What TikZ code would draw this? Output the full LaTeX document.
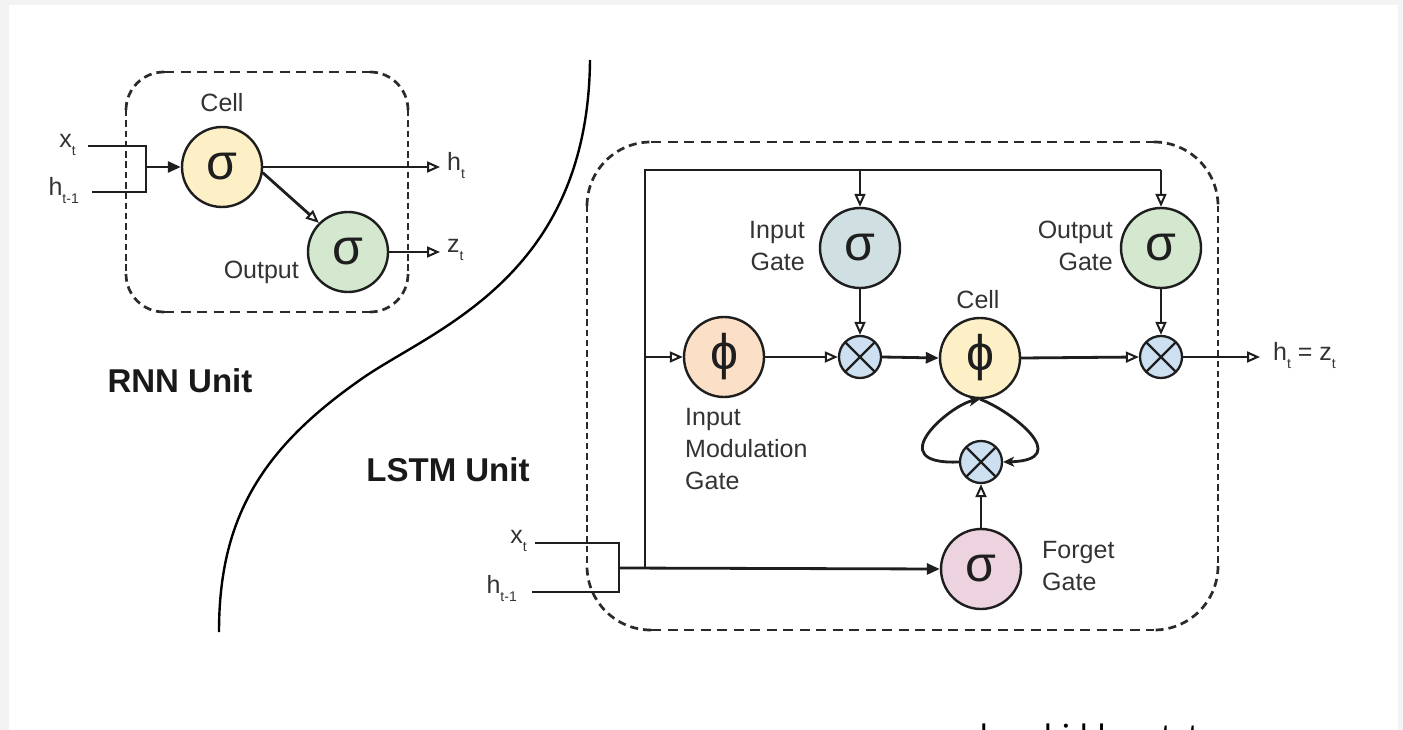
\documentclass[tikz,border=0pt]{standalone}
\usepackage{fontspec}
\setmainfont{Liberation Sans}
\newfontfamily\capfont{Carlito}
\usetikzlibrary{arrows.meta}

\definecolor{ink}{HTML}{1E1E1E}
\definecolor{labelgray}{HTML}{333333}
\definecolor{cellyellow}{HTML}{FDEFC6}
\definecolor{outgreen}{HTML}{D4E7CF}
\definecolor{ingate}{HTML}{CFDFE2}
\definecolor{modpeach}{HTML}{FBDFC6}
\definecolor{forgetpink}{HTML}{EDD2DF}
\definecolor{multblue}{HTML}{CDE0F1}
\definecolor{framegray}{HTML}{F3F3F3}
\definecolor{boxline}{HTML}{2A2A2A}

% lowered subscript for the signal names
\newcommand\lowsub[1]{\raisebox{-0.32em}{\fontsize{14}{14}\selectfont #1}}

% rounded dashed frame: left, top, right, bottom, corner radius
\newcommand\unitframe[5]{%
  \draw[hdash] ({#1+#5},#2) -- ({#3-#5},#2);
  \draw[hdash] ({#1+#5},#4) -- ({#3-#5},#4);
  \draw[vdash] (#1,{#2+#5}) -- (#1,{#4-#5});
  \draw[vdash] (#3,{#2+#5}) -- (#3,{#4-#5});
  \draw[cdash] ({#3-#5},#2) arc[start angle=-90, end angle=0, radius=#5];
  \draw[cdash] (#3,{#4-#5}) arc[start angle=0, end angle=90, radius=#5];
  \draw[cdash] ({#1+#5},#4) arc[start angle=90, end angle=180, radius=#5];
  \draw[cdash] (#1,{#2+#5}) arc[start angle=180, end angle=270, radius=#5];
}

\begin{document}
\begin{tikzpicture}[x=1pt, y=-1pt,
  unitnode/.style={circle, draw=ink, line width=2.4pt, minimum size=80pt,
    inner sep=0pt, text=ink, font=\fontsize{50}{50}\selectfont},
  mult/.style={circle, draw=ink, line width=2.3pt, fill=multblue,
    minimum size=42pt, inner sep=0pt,
    path picture={\draw[ink, line width=2.3pt]
      (path picture bounding box.south west) -- (path picture bounding box.north east)
      (path picture bounding box.north west) -- (path picture bounding box.south east);}},
  wire/.style={draw=ink, line width=2.8pt},
  opentip/.style={wire, -{Triangle[open, length=13pt, width=11pt, line width=2pt]}},
  solidtip/.style={wire, -{Triangle[length=13pt, width=11pt]}},
  looptip/.style={wire, -{Stealth[length=11pt, width=10pt, inset=3pt]}},
  hdash/.style={draw=boxline, line width=2.7pt, dash pattern=on 10pt off 6.5pt},
  vdash/.style={draw=boxline, line width=2.7pt, dash pattern=on 6.5pt off 3.8pt},
  cdash/.style={draw=boxline, line width=2.7pt, dash pattern=on 8pt off 5pt},
  lbl/.style={text=labelgray, font=\fontsize{25}{32}\selectfont, inner sep=0pt},
  sig/.style={text=labelgray, font=\fontsize{25}{25}\selectfont, inner sep=0pt},
  title/.style={text=black!90, font=\bfseries\fontsize{33}{33}\selectfont, inner sep=0pt}
]
% page with its light grey margin
\fill[framegray] (0,0) rectangle (1403,730);
\fill[white] (9,5) rectangle (1398,730);
\useasboundingbox (0,0) rectangle (1403,730);

% ---------------- RNN unit ----------------
\unitframe{126}{72}{408}{312}{38}

\node[unitnode, fill=cellyellow] (rcell) at (222,167) {σ};
\node[unitnode, fill=outgreen] (rout) at (348,252) {σ};
\node[lbl] (rcelllbl) at (222,103) {Cell};
\node[lbl, anchor=east] (routlbl) at (299,272) {Output};

\node[sig, anchor=east] (rx) at (76,145) {x\lowsub{t}};
\node[sig, anchor=east] (rh) at (79,190) {h\lowsub{t-1}};
\node[sig, anchor=west] (rht) at (447,165) {h\lowsub{t}};
\node[sig, anchor=west] (rzt) at (447,250) {z\lowsub{t}};

\coordinate (rxin) at (88,146);
\coordinate (rhin) at (92,192);
\coordinate (rjoin) at (146,167);
\coordinate (rhout) at (440,167);
\coordinate (rzout) at (440,252);

\draw[wire] (rxin) -- (146,146) -- (146,192) -- (rhin);
\draw[solidtip] (rjoin) -- (rcell.west);
\draw[opentip] (rcell.east) -- (rhout);
\draw[opentip] (rcell.-8) -- (rout.135);
\draw[opentip] (rout.east) -- (rzout);

\node[title] (rnntitle) at (180,381) {RNN Unit};

% dividing curve
\draw[black, line width=2.4pt] (590,60) .. controls (588,280) and (430,330) .. (360,380)
  .. controls (260,450) and (219,520) .. (219,632);

% ---------------- LSTM unit ----------------
\unitframe{587}{142}{1218}{630}{64}

\node[unitnode, fill=ingate] (ig) at (860,248) {σ};
\node[unitnode, fill=outgreen] (og) at (1161,248) {σ};
\node[unitnode, fill=modpeach] (mg) at (724,357) {ϕ};
\node[unitnode, fill=cellyellow] (cell) at (980,358) {ϕ};
\node[unitnode, fill=forgetpink] (fg) at (981,569) {σ};
\node[mult] (xin) at (860,357) {};
\node[mult] (xout) at (1161,357) {};
\node[mult] (xf) at (981,462) {};

\node[lbl, align=right, anchor=east] (iglbl) at (805,246) {Input\\Gate};
\node[lbl, align=right, anchor=east] (oglbl) at (1113,246) {Output\\Gate};
\node[lbl] (celllbl) at (978,300) {Cell};
\node[lbl, align=left, anchor=west] (mglbl) at (685,449) {Input\\Modulation\\Gate};
\node[lbl, align=left, anchor=west] (fglbl) at (1042,566) {Forget\\Gate};

\node[sig, anchor=east] (lx) at (527,541) {x\lowsub{t}};
\node[sig, anchor=east] (lh) at (517,588) {h\lowsub{t-1}};
\node[sig, anchor=west] (lout) at (1273,355) {h\lowsub{t} = z\lowsub{t}};

\coordinate (lxin) at (535,543);
\coordinate (lhin) at (532,592);
\coordinate (ljoin) at (619,568);
\coordinate (bus) at (645,568);
\coordinate (busmid) at (645,357);
\coordinate (bustop) at (645,170);
\coordinate (igtap) at (860,170);
\coordinate (ogtap) at (1161,170);
\coordinate (lend) at (1260,357);

% inputs and the shared bus
\draw[wire] (lxin) -- (619,543) -- (619,592) -- (lhin);
\draw[solidtip] (ljoin) -- (fg.west);
\draw[wire] (bus) -- (bustop) -- (ogtap);
\draw[opentip] (ogtap) -- (og.north);
\draw[opentip] (igtap) -- (ig.north);
\draw[opentip] (busmid) -- (mg.west);

% gating path
\draw[opentip] (ig.south) -- (xin.north);
\draw[opentip] (mg.east) -- (xin.west);
\draw[solidtip] (xin.east) -- (cell.west);
\draw[opentip] (cell.east) -- (xout.west);
\draw[opentip] (og.south) -- (xout.north);
\draw[opentip] (xout.east) -- (lend);

% forget path and cell recurrence
\draw[opentip] (fg.north) -- (xf.south);
\draw[looptip] (xf.west) .. controls (880,465) and (950,405) .. (cell.south);
\draw[looptip] (cell.south) .. controls (1010,410) and (1075,460) .. (xf.east);

\node[title] (lstmtitle) at (448,470) {LSTM Unit};

% caption line running off the lower edge
\begin{scope}
  \clip (0,0) rectangle (1403,730);
  \node[anchor=base east, inner sep=0pt, font=\capfont\fontsize{34}{34}\selectfont] (capa) at (988,747) {and};
  \node[anchor=base west, inner sep=0pt, font=\capfont\fontsize{34}{34}\selectfont] (capb) at (1044,747) {hidden state};
\end{scope}
\end{tikzpicture}
\end{document}
